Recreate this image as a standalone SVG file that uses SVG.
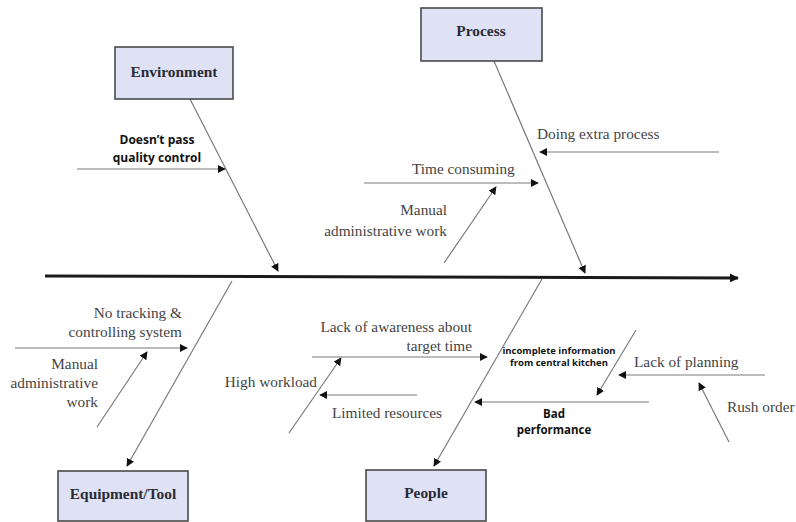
<svg xmlns="http://www.w3.org/2000/svg" width="796" height="522" viewBox="0 0 796 522">
<style>
.box{fill:#dfe2f5;stroke:#4a4a4a;stroke-width:1.6}
.bt{font-family:'Liberation Serif','DejaVu Serif','Times New Roman',Times,serif;font-weight:bold;font-size:15.4px;fill:#2a2a35;text-anchor:middle}
.lb{font-family:'Liberation Serif','DejaVu Serif','Times New Roman',Times,serif;font-size:15.3px;fill:#444}
.bs{font-family:'Open Sans','Liberation Sans',sans-serif;font-weight:bold;fill:#111}
.ln{stroke:#7a7a7a;stroke-width:1.2;fill:none;marker-end:url(#ah)}
</style>
<defs>
<marker id="ah" viewBox="0 0 10 10" refX="9" refY="5" markerWidth="8" markerHeight="8" markerUnits="userSpaceOnUse" orient="auto">
<path d="M0,0L10,5L0,10z" fill="#111"/>
</marker>
<marker id="ah2" viewBox="0 0 10 10" refX="9" refY="5" markerWidth="9" markerHeight="9" markerUnits="userSpaceOnUse" orient="auto">
<path d="M0,0L10,5L0,10z" fill="#111"/>
</marker>
</defs>
<rect width="796" height="522" fill="#fff"/>
<g id="connectors">
<line x1="45" y1="276" x2="738" y2="278" stroke="#1a1a1a" stroke-width="3" marker-end="url(#ah2)"/>
<line class="ln" x1="190" y1="99" x2="278" y2="271"/>
<line class="ln" x1="494" y1="61" x2="585" y2="273"/>
<line class="ln" x1="232" y1="281" x2="127" y2="466"/>
<line class="ln" x1="542" y1="279" x2="434" y2="466"/>
<line class="ln" x1="77" y1="169" x2="225" y2="169"/>
<line class="ln" x1="719" y1="152" x2="540" y2="152"/>
<line class="ln" x1="364" y1="183" x2="538" y2="183"/>
<line class="ln" x1="444" y1="263" x2="496" y2="187"/>
<line class="ln" x1="15" y1="348" x2="187" y2="348"/>
<line class="ln" x1="97" y1="427" x2="147" y2="352"/>
<line class="ln" x1="289" y1="433" x2="341" y2="358"/>
<line class="ln" x1="312" y1="357" x2="487" y2="357"/>
<line class="ln" x1="417" y1="395" x2="320" y2="395"/>
<line class="ln" x1="636" y1="330" x2="597" y2="395"/>
<line class="ln" x1="765" y1="375" x2="619" y2="375"/>
<line class="ln" x1="649" y1="402" x2="475" y2="402"/>
<line class="ln" x1="729" y1="442" x2="699" y2="383"/>
</g>
<g id="environment">
<rect class="box" x="115" y="47" width="118" height="52"/>
<text class="bt" x="174" y="77">Environment</text>
</g>
<g id="process">
<rect class="box" x="421" y="8" width="121" height="53"/>
<text class="bt" x="481" y="36">Process</text>
</g>
<g id="equipment">
<rect class="box" x="58" y="471" width="130" height="50"/>
<text class="bt" x="123" y="499">Equipment/Tool</text>
</g>
<g id="people">
<rect class="box" x="366" y="470" width="120" height="51"/>
<text class="bt" x="426" y="498">People</text>
</g>
<g id="labels">
<text class="bs" font-size="12" text-anchor="middle" x="157" y="144">Doesn’t pass</text>
<text class="bs" font-size="12" text-anchor="middle" x="157" y="162">quality control</text>
<text class="lb" x="537" y="139">Doing extra process</text>
<text class="lb" x="412" y="174">Time consuming</text>
<text class="lb" text-anchor="end" x="447" y="215">Manual</text>
<text class="lb" text-anchor="end" x="447" y="236">administrative work</text>
<text class="lb" text-anchor="end" x="182" y="318">No tracking &amp;</text>
<text class="lb" text-anchor="end" x="182" y="337">controlling system</text>
<text class="lb" text-anchor="end" x="98" y="369">Manual</text>
<text class="lb" text-anchor="end" x="98" y="388">administrative</text>
<text class="lb" text-anchor="end" x="98" y="407">work</text>
<text class="lb" text-anchor="end" x="317" y="387">High workload</text>
<text class="lb" text-anchor="end" x="472" y="332">Lack of awareness about</text>
<text class="lb" text-anchor="end" x="472" y="351">target time</text>
<text class="lb" x="332" y="418">Limited resources</text>
<text class="bs" font-size="9.5" text-anchor="middle" x="559" y="354">incomplete information</text>
<text class="bs" font-size="9.5" text-anchor="middle" x="559" y="366">from central kitchen</text>
<text class="lb" x="634" y="367">Lack of planning</text>
<text class="bs" font-size="11.5" text-anchor="middle" x="554" y="418">Bad</text>
<text class="bs" font-size="11.5" text-anchor="middle" x="554" y="434">performance</text>
<text class="lb" x="727" y="412">Rush order</text>
</g>
</svg>
